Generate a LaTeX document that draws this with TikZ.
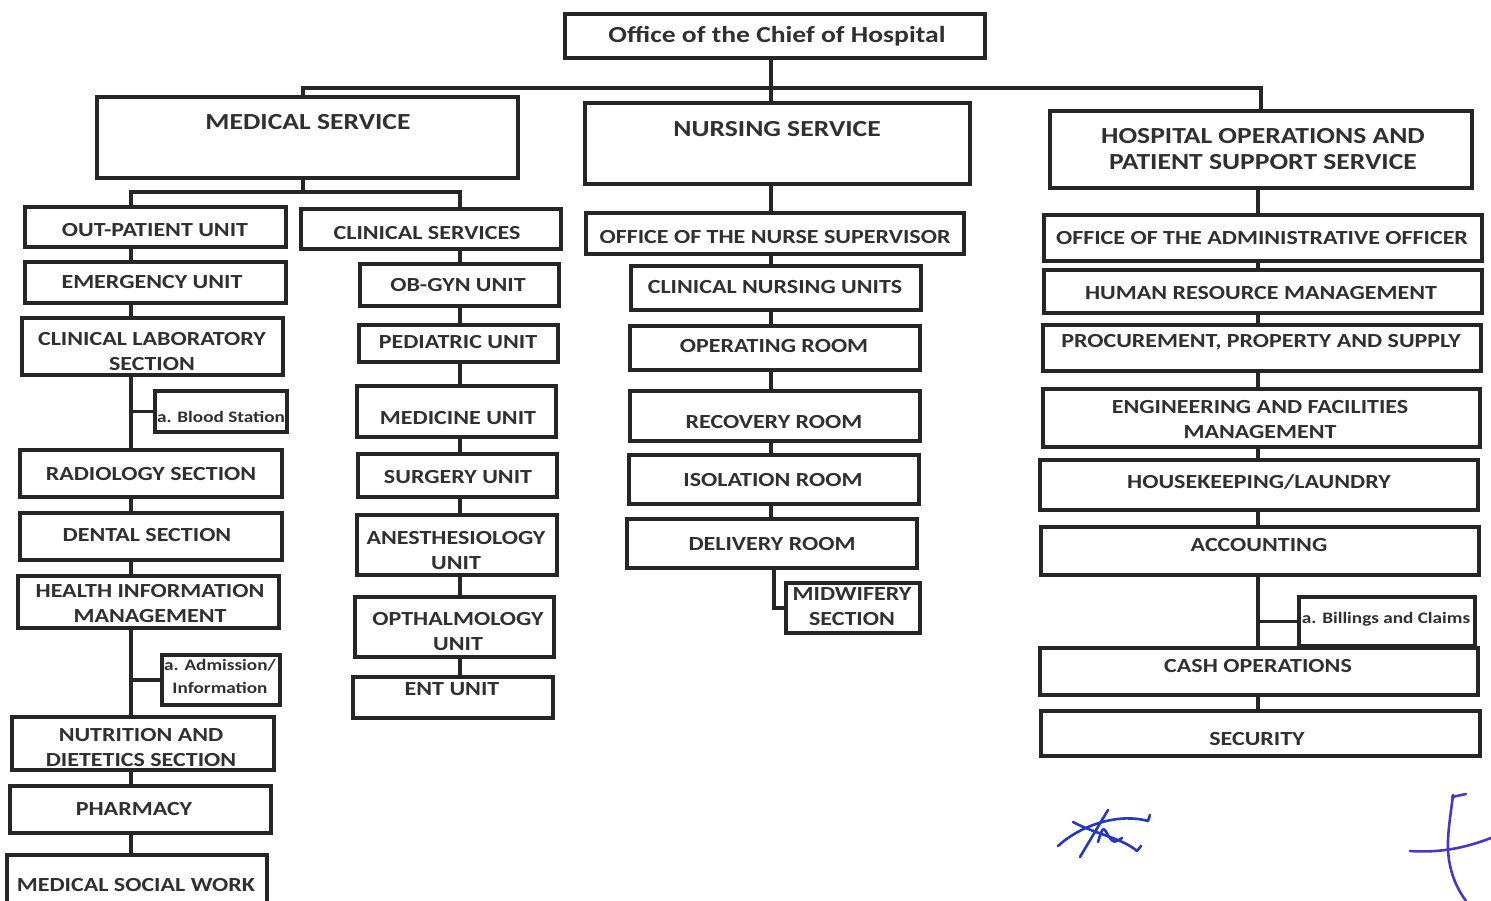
\documentclass[tikz,border=0pt]{standalone}
\usepackage{fontspec}
\setmainfont{Carlito}[FakeStretch=1.2]
\usetikzlibrary{fit,backgrounds}
\definecolor{linec}{HTML}{262626}
\definecolor{textc}{HTML}{303030}
\definecolor{sigc}{HTML}{2438C0}
\definecolor{sigd}{HTML}{4A36C8}
\tikzset{
  box/.style={draw=linec, line width=3.2pt, fill=white, inner sep=0pt, rectangle},
  txt/.style={font=\bfseries\fontsize{20}{25}\selectfont, text=textc, align=center, inner sep=0pt},
  big/.style={font=\bfseries\fontsize{23}{26}\selectfont},
  small/.style={font=\bfseries\fontsize{16}{23}\selectfont},
  conn/.style={draw=linec, line width=3.2pt},
  sig/.style={draw=sigc, line width=2.6pt, line cap=round, line join=round}
}
\newcommand\ubox[6][]{%
  \node[box, fit={(#3) (#4)}] (#2) {};
  \node[txt,#1] (#2-t) at (#5) {#6};}
\begin{document}
\begin{tikzpicture}[x=1pt,y=-1pt]
\useasboundingbox (0,0) rectangle (1491,901);
% top
\ubox[big]{chief}{565,14}{985,58}{777,36}{Office of the Chief of Hospital}
\ubox[big]{med}{97,97}{518,178}{308,122}{MEDICAL SERVICE}
\ubox[big]{nurs}{585,103}{970,184}{777,129}{NURSING SERVICE}
\ubox[big]{hops}{1050,111}{1472,188}{1263,149.5}{HOSPITAL OPERATIONS AND\\PATIENT SUPPORT SERVICE}
% left column
\ubox{opu}{25,207}{286,247}{155,230}{OUT-PATIENT UNIT}
\ubox{emer}{25,262}{286,303}{152,282}{EMERGENCY UNIT}
\ubox{clab}{22,318}{283,375}{152,352}{CLINICAL LABORATORY\\SECTION}
\ubox[small]{blood}{155,391}{287,432}{221,417}{a. Blood Station}
\ubox{rad}{20,450}{282,497}{151,474}{RADIOLOGY SECTION}
\ubox{dent}{20,513}{282,560}{147,535}{DENTAL SECTION}
\ubox{him}{18,576}{279,628}{150,603.5}{HEALTH INFORMATION\\MANAGEMENT}
\ubox[small]{adm}{162,655}{280,705}{220,676.5}{a. Admission/\\Information}
\ubox{nut}{12,717}{274,770}{141,747.5}{NUTRITION AND\\DIETETICS SECTION}
\ubox{phar}{10,786}{271,833}{134,809}{PHARMACY}
\ubox{msw}{7,855}{267,906}{136,885}{MEDICAL SOCIAL WORK}
% clinical services column
\ubox{cs}{301,209}{561,249}{427,233}{CLINICAL SERVICES}
\ubox{obg}{360,264}{559,306}{458,285}{OB-GYN UNIT}
\ubox{ped}{359,325}{558,362}{458,342}{PEDIATRIC UNIT}
\ubox{medu}{357,386}{556,437}{458,418}{MEDICINE UNIT}
\ubox{surg}{358,454}{557,497}{458,477}{SURGERY UNIT}
\ubox{anes}{357,515}{557,575}{456,551}{ANESTHESIOLOGY\\UNIT}
\ubox{opth}{355,597}{554,657}{458,631.5}{OPTHALMOLOGY\\UNIT}
\ubox{ent}{353,677}{553,718}{452,689}{ENT UNIT}
% nursing column
\ubox{nsup}{586,213}{964,254}{775,237}{OFFICE OF THE NURSE SUPERVISOR}
\ubox{cnu}{631,266}{921,310}{775,287}{CLINICAL NURSING UNITS}
\ubox{orm}{630,326}{920,370}{774,346}{OPERATING ROOM}
\ubox{rr}{630,391}{920,441}{774,422}{RECOVERY ROOM}
\ubox{iso}{629,455}{919,504}{773,480}{ISOLATION ROOM}
\ubox{dr}{627,519}{917,568}{772,544}{DELIVERY ROOM}
\ubox{mid}{786,583}{920,633}{852,607}{MIDWIFERY\\SECTION}
% hospital operations column
\ubox{aoff}{1044,215}{1482,261}{1262,238}{OFFICE OF THE ADMINISTRATIVE OFFICER}
\ubox{hrm}{1044,270}{1482,313}{1261,293}{HUMAN RESOURCE MANAGEMENT}
\ubox{proc}{1043,325}{1481,371}{1261,342}{PROCUREMENT, PROPERTY AND SUPPLY}
\ubox{eng}{1043,389}{1480,447}{1260,419.5}{ENGINEERING AND FACILITIES\\MANAGEMENT}
\ubox{hk}{1040,460}{1478,510}{1259,482}{HOUSEKEEPING/LAUNDRY}
\ubox{acc}{1041,527}{1479,575}{1259,545}{ACCOUNTING}
\ubox[small]{bill}{1299,597}{1475,646}{1386,619}{a. Billings and Claims}
\ubox{cash}{1040,648}{1478,695}{1258,666}{CASH OPERATIONS}
\ubox{sec}{1041,711}{1480,756}{1257,739}{SECURITY}
% connectors
\coordinate (bus) at (0,88);
\coordinate (sub) at (0,192);
\coordinate (sT) at (771,0);
\coordinate (sMed) at (303,0);
\coordinate (sL) at (131,0);
\coordinate (sC) at (460,0);
\coordinate (sN) at (771,0);
\coordinate (sD) at (774,0);
\coordinate (sH) at (1258,0);
\begin{scope}[on background layer]
  \draw[conn] (chief.south -| sT) -- (nurs.north -| sT);
  \draw[conn] (med.north -| sMed) -- (sMed |- bus) -- (hops.north |- bus) -- (hops.north);
  \draw[conn] (med.south -| sMed) -- (sMed |- sub);
  \draw[conn] (opu.north -| sL) -- (sL |- sub) -- (sC |- sub) -- (cs.north -| sC);
  \foreach \a/\b in {opu/emer, emer/clab, clab/rad, rad/dent, dent/him, him/nut, nut/phar, phar/msw}
    \draw[conn] (\a.south -| sL) -- (\b.north -| sL);
  \draw[conn] (sL |- blood.west) -- (blood.west);
  \draw[conn] (sL |- adm.west) -- (adm.west);
  \foreach \a/\b in {cs/obg, obg/ped, ped/medu, medu/surg, surg/anes, anes/opth, opth/ent}
    \draw[conn] (\a.south -| sC) -- (\b.north -| sC);
  \foreach \a/\b in {nurs/nsup, nsup/cnu, cnu/orm, orm/rr, rr/iso, iso/dr}
    \draw[conn] (\a.south -| sN) -- (\b.north -| sN);
  \draw[conn] (dr.south -| sD) |- (mid.west);
  \foreach \a/\b in {hops/aoff, aoff/hrm, hrm/proc, proc/eng, eng/hk, hk/acc, acc/cash, cash/sec}
    \draw[conn] (\a.south -| sH) -- (\b.north -| sH);
  \draw[conn] (sH |- bill.west) -- (bill.west);
\end{scope}
% signatures
\draw[sig] (1058,846) .. controls (1082,824) and (1120,813) .. (1148,821) -- (1150,815);
\draw[sig] (1073,822) .. controls (1095,834) and (1122,838) .. (1137,851) -- (1141,846);
\draw[sig] (1080,857) -- (1108,810);
\draw[sig] (1098,842) .. controls (1103,826) .. (1109,837) .. controls (1114,843) .. (1122,838);
\draw[sig, draw=sigd] (1452,797) -- (1466,794);
\draw[sig, draw=sigd] (1453,795) .. controls (1450,820) and (1446,840) .. (1449,860) .. controls (1452,878) and (1458,890) .. (1466,901);
\draw[sig, draw=sigd] (1410,851) .. controls (1440,853) and (1465,848) .. (1491,838);
\end{tikzpicture}
\end{document}
